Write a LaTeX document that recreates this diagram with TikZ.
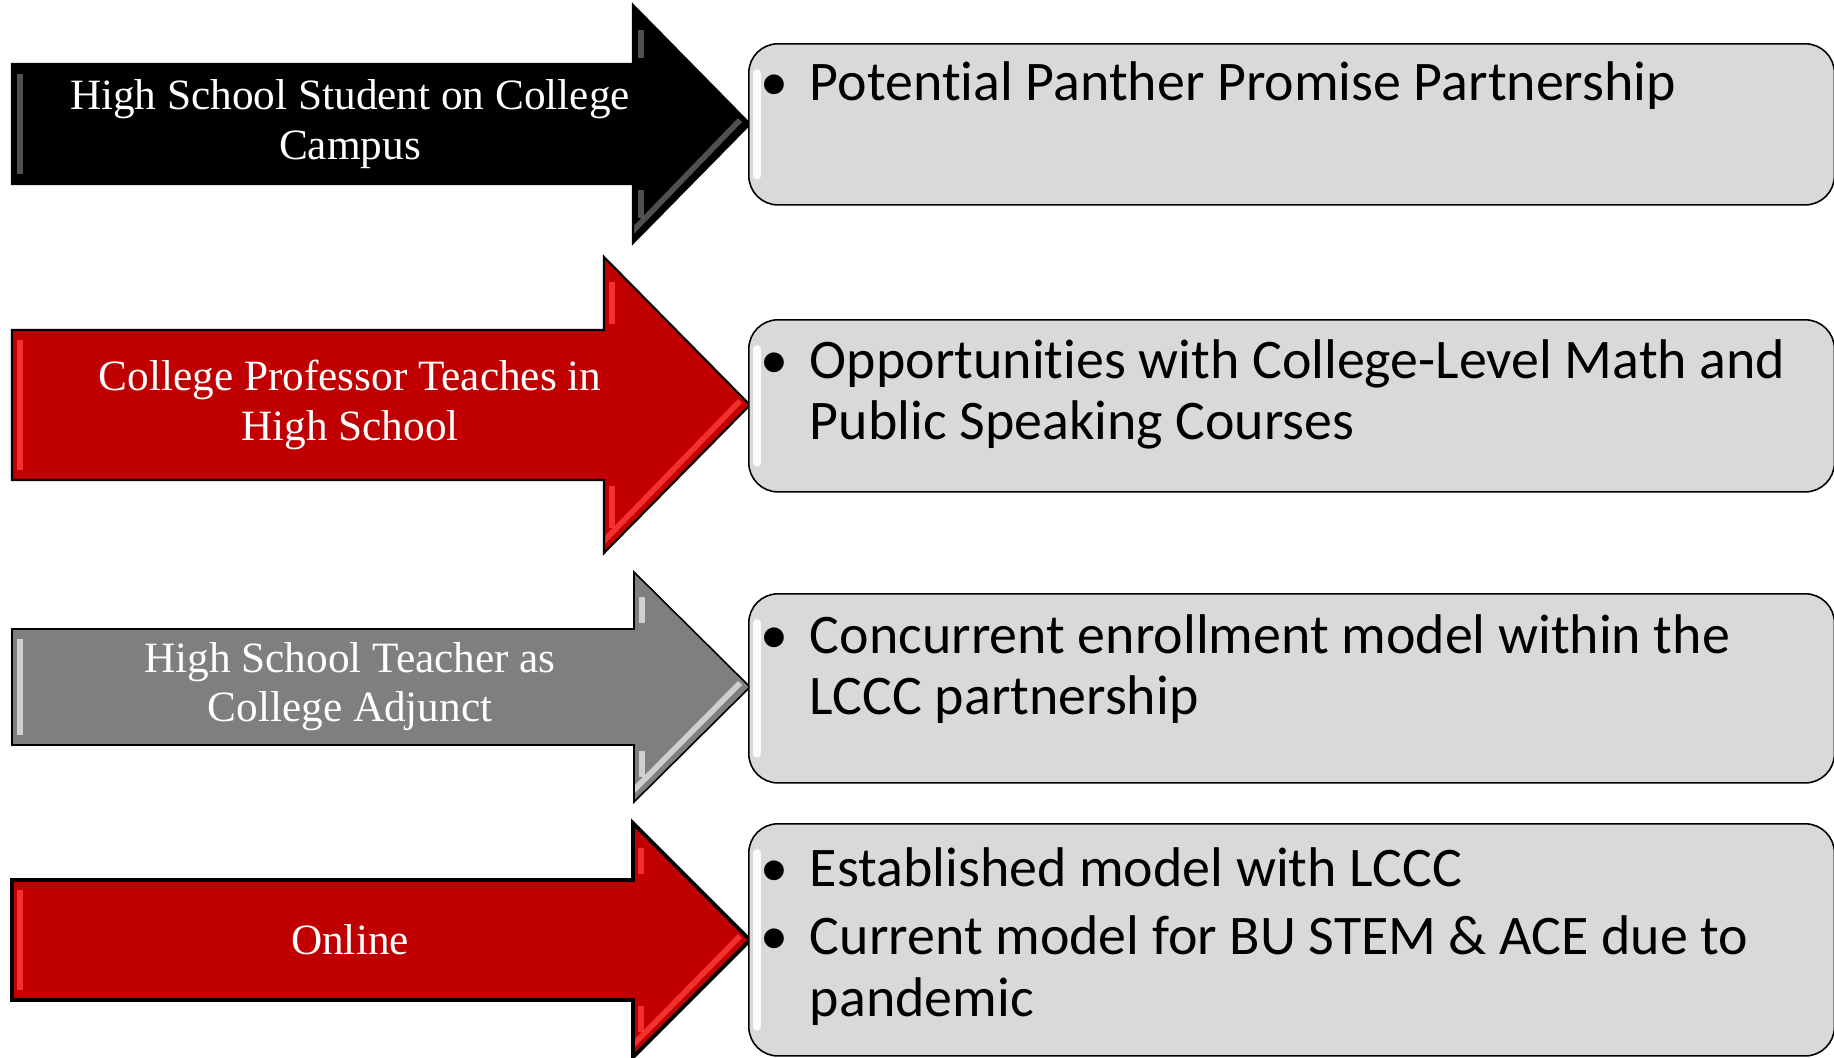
\documentclass[tikz,border=0pt]{standalone}
\usepackage{fontspec}
\setmainfont{Liberation Serif}
\newfontfamily\itemfont[Ligatures=NoCommon]{Carlito}
\usepackage{tikz}
\definecolor{hsred}{RGB}{192, 0, 0}
\definecolor{hsredlight}{RGB}{255, 55, 55}
\definecolor{hsgray}{RGB}{127, 127, 127}
\definecolor{hsgraylight}{RGB}{222, 222, 222}
\definecolor{hsblack}{RGB}{0, 0, 0}
\definecolor{hsblacklight}{RGB}{95, 95, 95}
\definecolor{boxgray}{RGB}{217, 217, 217}
\tikzset{
	armlabel/.style={text=white, align=center, inner sep=0pt, font=\fontsize{12.3}{14}\selectfont},
	bevel/.style={draw=#1, line width=1.6pt, opacity=0.85},
	infobox/.style={draw=black, line width=0.45pt, fill=boxgray, rounded corners=8.3pt, anchor=north west, minimum width=10.85cm, inner sep=0pt},
	boxshine/.style={draw=white, line width=2.2pt, line cap=round, opacity=0.9},
	boxtext/.style={anchor=base west, inner sep=0pt, font=\itemfont\fontsize{15.9}{17.6}\selectfont},
}
\newcommand{\hsarrow}[9][0.6pt]{% [outline]{name}{fill}{shine}{y}{shaft}{head base}{head}{label}
	\fill[#3] (12,#5-#6) -- (#7,#5-#6) -- (#7,#5-#8) -- (750,#5) -- (#7,#5+#8) -- (#7,#5+#6) -- (12,#5+#6) -- cycle;
	\begin{scope}
		\clip (12,#5-#6) -- (#7,#5-#6) -- (#7,#5-#8) -- (750,#5) -- (#7,#5+#8) -- (#7,#5+#6) -- (12,#5+#6) -- cycle;
		\draw[bevel=#4] (20,#5-#6+10) -- (20,#5+#6-10);
		\draw[bevel=#4] (#7+8,#5-#8+25) -- (#7+8,#5-#6-6);
		\draw[bevel=#4] (#7+8,#5+#6+6) -- (#7+8,#5+#8-25);
		\draw[bevel=#4] (#7-6,#5+#8-6) -- (740,#5-4); % lit lower edge of the head
	\end{scope}
	\draw[line width=#1] (12,#5-#6) -- (#7,#5-#6) -- (#7,#5-#8) -- (750,#5) -- (#7,#5+#8) -- (#7,#5+#6) -- (12,#5+#6) -- cycle;
	\node[armlabel] (#2) at (350,#5) {#9}
}

\begin{document}
\begin{tikzpicture}[x=0.01cm, y=-0.01cm]
	\useasboundingbox (0,0) rectangle (1834,1057);

	\hsarrow{student}{hsblack}{hsblacklight}{124}{60}{633}{119}{High School Student on College\\Campus};
	\hsarrow{professor}{hsred}{hsredlight}{405}{75}{604}{148}{College Professor Teaches in\\High School};
	\hsarrow[0.45pt]{adjunct}{hsgray}{hsgraylight}{687}{58}{634}{115}{High School Teacher as\\College Adjunct};
	\hsarrow[1.1pt]{online}{hsred}{hsredlight}{940}{60}{633}{117}{Online};

	\node[infobox, minimum height=1.61cm] (box1) at (748,43) {};
	\node[infobox, minimum height=1.72cm] (box2) at (748,319) {};
	\node[infobox, minimum height=1.89cm] (box3) at (748,593) {};
	\node[infobox, minimum height=2.32cm] (box4) at (748,823) {};

	\draw[boxshine] ([shift={(9,30)}]box1.north west) -- ([shift={(9,-30)}]box1.south west);
	\draw[boxshine] ([shift={(9,30)}]box2.north west) -- ([shift={(9,-30)}]box2.south west);
	\draw[boxshine] ([shift={(9,30)}]box3.north west) -- ([shift={(9,-30)}]box3.south west);
	\draw[boxshine] ([shift={(9,30)}]box4.north west) -- ([shift={(9,-30)}]box4.south west);

	\node[boxtext] (item1) at (760,100) {\begin{tabular}[t]{@{}p{14pt}@{}l@{}}
		• & Potential Panther Promise Partnership
	\end{tabular}};
	\node[boxtext] (item2) at (760,378) {\begin{tabular}[t]{@{}p{14pt}@{}l@{}}
		• & Opportunities with College-Level Math and\\
		  & Public Speaking Courses
	\end{tabular}};
	\node[boxtext] (item3) at (760,653) {\begin{tabular}[t]{@{}p{14pt}@{}l@{}}
		• & Concurrent enrollment model within the\\
		  & LCCC partnership
	\end{tabular}};
	\node[boxtext] (item4) at (760,886) {\begin{tabular}[t]{@{}p{14pt}@{}l@{}}
		• & Established model with LCCC\\[2pt]
		• & Current model for BU STEM \& ACE due to\\
		  & pandemic
	\end{tabular}};
\end{tikzpicture}
\end{document}
